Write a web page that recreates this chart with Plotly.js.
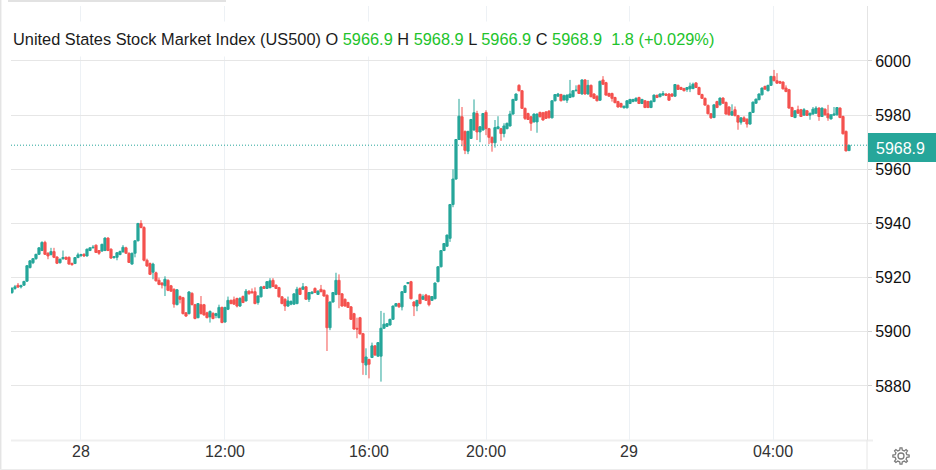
<!DOCTYPE html>
<html>
<head>
<meta charset="utf-8">
<script src="https://cdn.plot.ly/plotly-3.0.1.min.js"></script>
<style>html,body{margin:0;padding:0;background:#fff;overflow:hidden}#c{width:936px;height:470px}</style>
</head>
<body>
<div id="c"></div>
<script>
var opens = [
5914.5,5916.0,5917.2,5916.6,5917.2,5918.7,5923.7,5925.5,5927.0,5928.6,
5930.0,5933.0,5929.0,5928.5,5929.6,5927.6,5925.5,5927.0,5927.5,5927.5,
5925.2,5925.2,5927.4,5928.2,5928.6,5928.0,5930.0,5931.0,5932.0,5930.0,
5929.8,5930.0,5934.6,5930.5,5927.4,5927.5,5928.5,5929.5,5931.0,5929.0,
5925.0,5929.0,5933.6,5940.0,5938.5,5926.4,5925.2,5922.0,5921.8,5919.0,
5918.0,5917.0,5919.0,5917.0,5915.7,5910.0,5913.0,5912.6,5907.0,5906.7,
5914.2,5910.0,5905.2,5910.0,5910.0,5907.0,5905.5,5906.8,5906.0,5905.2,
5909.0,5903.6,5908.3,5911.6,5911.8,5912.3,5909.5,5913.0,5911.4,5915.0,
5914.8,5914.8,5910.8,5912.9,5916.7,5916.0,5916.3,5919.0,5917.2,5916.3,
5912.9,5912.0,5909.5,5910.2,5910.2,5910.4,5916.0,5915.7,5916.6,5912.0,
5914.1,5916.0,5913.8,5915.7,5915.3,5913.5,5901.5,5911.0,5913.8,5919.0,
5914.0,5912.0,5910.8,5909.2,5906.7,5901.3,5905.2,5899.3,5887.7,5889.8,
5890.5,5894.8,5891.0,5891.0,5901.3,5902.0,5902.5,5904.6,5909.5,5910.4,
5909.2,5914.5,5917.8,5918.5,5911.0,5909.5,5913.8,5912.0,5913.6,5913.2,
5911.6,5912.2,5918.5,5924.0,5930.0,5931.6,5934.5,5947.0,5956.4,5971.0,
5979.4,5974.0,5966.7,5971.4,5974.5,5980.6,5973.8,5974.5,5981.0,5975.0,
5971.8,5969.8,5975.0,5975.0,5973.2,5975.0,5976.0,5980.4,5985.5,5991.0,
5989.0,5982.5,5980.6,5979.4,5977.5,5977.5,5981.0,5980.9,5981.2,5981.5,
5979.0,5985.3,5987.0,5987.6,5985.6,5985.5,5986.5,5986.8,5989.0,5991.0,
5987.8,5993.0,5987.8,5991.0,5987.8,5987.0,5985.5,5993.0,5992.0,5988.0,
5988.0,5986.5,5985.0,5984.3,5982.7,5982.7,5984.3,5985.0,5985.2,5986.5,
5984.3,5985.3,5985.0,5982.8,5985.0,5987.3,5986.8,5987.4,5987.8,5987.8,
5987.8,5987.0,5991.0,5990.2,5989.8,5989.5,5989.7,5989.8,5991.9,5990.2,
5987.6,5986.2,5983.6,5980.5,5979.1,5985.0,5983.8,5986.3,5984.7,5983.0,
5980.0,5982.0,5979.8,5977.4,5979.0,5978.5,5976.7,5981.0,5984.4,5985.7,
5987.5,5990.6,5989.0,5991.0,5994.3,5992.7,5992.4,5992.2,5990.0,5989.4,
5982.8,5979.1,5982.0,5982.0,5980.0,5981.6,5980.0,5980.4,5980.7,5982.6,
5979.5,5982.2,5980.5,5978.6,5980.0,5980.1,5982.6,5979.5,5974.0,5966.9
];
var highs = [
5916.5,5917.3,5918.0,5917.4,5918.8,5924.6,5926.4,5927.2,5928.8,5931.2,
5933.4,5933.6,5929.4,5931.0,5931.0,5927.9,5927.0,5930.0,5927.8,5927.8,
5925.6,5927.6,5929.2,5928.8,5929.0,5930.7,5931.2,5932.0,5932.2,5930.2,
5932.5,5934.9,5934.9,5930.8,5928.0,5929.4,5930.0,5932.0,5931.4,5929.3,
5929.2,5933.8,5940.2,5941.2,5939.0,5927.0,5925.6,5925.5,5922.2,5920.0,
5918.3,5920.5,5919.4,5917.3,5916.0,5915.8,5913.4,5912.9,5907.3,5915.0,
5914.6,5910.3,5910.6,5913.2,5910.3,5907.4,5907.9,5907.2,5907.0,5910.0,
5909.3,5909.2,5913.0,5911.9,5913.0,5912.6,5912.8,5913.4,5915.8,5915.3,
5916.0,5916.4,5913.5,5916.9,5917.0,5918.7,5919.8,5919.8,5917.5,5916.6,
5913.2,5912.4,5913.0,5911.6,5914.2,5916.6,5916.4,5918.0,5916.9,5914.7,
5914.9,5916.4,5915.3,5917.3,5915.6,5913.8,5911.2,5914.7,5921.8,5921.2,
5914.3,5912.3,5911.1,5909.5,5907.0,5905.2,5905.5,5899.6,5893.9,5890.0,
5896.0,5895.0,5896.2,5907.7,5907.0,5903.2,5904.8,5909.7,5910.6,5910.7,
5915.0,5917.2,5918.4,5918.8,5911.3,5911.8,5914.1,5913.8,5914.0,5913.5,
5913.2,5918.2,5924.2,5930.2,5932.8,5935.9,5947.2,5960.0,5971.2,5986.0,
5983.0,5974.3,5974.2,5978.6,5985.8,5981.6,5975.9,5980.8,5981.8,5975.3,
5972.1,5978.2,5979.6,5975.3,5977.0,5977.2,5981.6,5986.0,5988.0,5991.4,
5989.3,5982.8,5980.9,5979.7,5980.6,5980.6,5981.3,5981.2,5981.5,5981.8,
5985.5,5987.8,5988.2,5987.9,5987.6,5987.6,5993.0,5989.2,5991.0,5991.3,
5993.2,5993.3,5993.0,5991.3,5988.1,5987.3,5992.7,5994.4,5992.3,5988.3,
5988.3,5986.8,5985.3,5984.6,5983.5,5985.5,5986.0,5986.0,5986.6,5986.8,
5986.0,5985.6,5985.3,5985.4,5987.6,5987.6,5988.0,5988.9,5988.1,5988.1,
5988.1,5991.5,5991.3,5990.5,5990.1,5990.4,5992.0,5992.0,5992.2,5990.5,
5987.9,5986.5,5983.9,5980.8,5984.0,5985.3,5986.5,5986.6,5985.0,5983.3,
5984.0,5983.2,5980.1,5979.2,5979.6,5978.8,5981.2,5985.0,5986.1,5988.0,
5990.2,5990.9,5991.2,5994.5,5996.7,5995.5,5992.7,5992.5,5991.0,5989.7,
5983.1,5981.8,5983.5,5982.3,5982.6,5981.9,5980.9,5983.0,5983.3,5982.9,
5982.8,5982.5,5983.8,5980.3,5983.0,5983.0,5982.9,5979.8,5974.3,5968.9
];
var lows = [
5914.0,5915.5,5916.2,5916.0,5917.0,5918.4,5923.4,5925.0,5926.6,5928.4,
5929.8,5928.4,5926.8,5928.2,5927.2,5925.0,5925.2,5926.6,5926.5,5924.8,
5924.4,5925.0,5927.2,5927.6,5927.6,5927.8,5929.8,5930.8,5929.1,5928.4,
5929.6,5929.8,5929.8,5927.0,5927.0,5926.4,5928.3,5929.3,5928.8,5925.4,
5924.8,5927.5,5933.4,5938.2,5926.0,5924.0,5921.0,5919.4,5918.6,5917.2,
5916.0,5913.2,5915.0,5914.8,5908.9,5909.8,5910.5,5906.4,5905.5,5906.4,
5909.8,5904.6,5905.0,5906.4,5906.0,5905.0,5903.4,5904.6,5905.0,5905.0,
5903.2,5903.4,5908.0,5910.2,5910.0,5909.0,5909.2,5910.6,5911.2,5913.8,
5914.2,5910.2,5910.0,5912.7,5915.8,5915.8,5916.0,5916.5,5915.8,5912.7,
5910.2,5907.7,5909.2,5909.8,5910.0,5910.2,5913.6,5915.5,5911.8,5911.0,
5913.9,5914.3,5913.6,5914.6,5913.0,5892.9,5900.6,5910.8,5913.5,5908.7,
5909.3,5909.3,5908.8,5904.4,5900.8,5897.6,5899.0,5884.1,5884.0,5882.8,
5890.3,5891.2,5890.8,5881.6,5901.1,5901.8,5902.3,5904.4,5909.3,5908.9,
5907.9,5914.3,5917.6,5912.0,5905.8,5907.6,5910.2,5911.8,5911.4,5909.4,
5911.4,5912.0,5918.3,5923.8,5929.8,5931.4,5933.2,5946.0,5956.2,5970.8,
5968.5,5965.6,5965.6,5971.2,5974.3,5970.8,5970.0,5974.3,5972.6,5969.3,
5966.5,5968.0,5974.8,5970.5,5971.8,5974.8,5975.8,5980.2,5985.3,5988.8,
5982.3,5978.2,5978.2,5974.2,5977.3,5973.5,5979.2,5978.0,5978.6,5978.8,
5978.8,5985.1,5986.8,5985.1,5985.4,5984.5,5986.3,5986.6,5988.8,5987.8,
5987.6,5987.6,5987.6,5986.6,5986.0,5985.1,5985.3,5991.2,5987.2,5986.8,
5985.0,5984.4,5982.8,5982.8,5982.5,5982.5,5984.1,5984.8,5985.0,5984.1,
5984.1,5982.6,5982.6,5982.6,5984.8,5986.3,5986.6,5987.2,5987.1,5985.3,
5986.8,5986.8,5989.3,5989.3,5988.8,5988.6,5988.5,5989.6,5990.0,5987.4,
5986.0,5983.5,5980.3,5978.6,5978.9,5982.6,5983.6,5984.2,5980.2,5979.9,
5979.8,5979.6,5974.6,5976.5,5977.5,5975.4,5976.5,5980.8,5984.2,5985.5,
5987.3,5989.4,5988.8,5990.8,5992.5,5991.6,5991.6,5989.5,5988.5,5982.4,
5979.3,5978.9,5980.5,5979.3,5979.8,5979.7,5978.3,5980.2,5980.5,5977.9,
5979.3,5979.9,5977.9,5978.4,5979.8,5979.9,5978.9,5972.9,5966.6,5966.9
];
var closes = [
5916.0,5916.6,5916.5,5917.0,5918.6,5924.4,5926.2,5927.0,5928.6,5931.0,
5933.0,5928.6,5928.0,5929.6,5927.5,5925.3,5926.8,5927.4,5926.8,5925.0,
5924.8,5927.4,5928.4,5928.5,5928.0,5930.5,5931.0,5931.2,5929.3,5929.0,
5932.3,5934.6,5930.0,5927.2,5927.7,5929.2,5929.6,5931.2,5929.0,5925.6,
5929.0,5933.6,5940.0,5938.5,5926.4,5924.3,5921.2,5925.0,5918.8,5917.5,
5917.3,5919.4,5915.3,5915.0,5910.2,5915.5,5912.0,5906.7,5905.8,5914.7,
5910.0,5904.9,5910.4,5906.7,5906.2,5905.2,5907.5,5904.9,5906.7,5909.0,
5903.4,5909.0,5911.6,5910.4,5910.2,5909.5,5912.3,5910.8,5915.0,5914.0,
5914.4,5910.4,5913.2,5916.5,5916.0,5918.5,5918.8,5916.7,5916.0,5912.9,
5910.4,5909.5,5911.4,5911.2,5914.0,5915.7,5913.8,5916.6,5912.0,5914.5,
5914.7,5914.5,5915.0,5914.8,5913.2,5901.5,5911.0,5914.5,5919.0,5913.8,
5909.5,5909.5,5909.0,5904.6,5901.0,5901.0,5899.2,5888.6,5890.7,5888.0,
5894.8,5891.4,5896.0,5901.3,5902.8,5903.0,5904.6,5909.5,5910.4,5909.2,
5914.8,5917.0,5918.2,5912.2,5909.5,5911.6,5910.4,5913.0,5911.6,5910.0,
5913.0,5918.0,5924.0,5930.0,5932.6,5935.7,5947.0,5956.4,5971.0,5979.6,
5970.8,5967.0,5974.0,5978.4,5980.9,5973.8,5975.7,5980.6,5975.0,5971.8,
5969.8,5975.4,5975.7,5973.2,5976.0,5977.0,5980.4,5985.8,5987.8,5989.0,
5982.5,5978.8,5978.4,5977.0,5980.4,5980.4,5979.4,5978.2,5978.8,5979.0,
5985.3,5987.6,5987.8,5985.3,5987.2,5987.4,5987.8,5989.0,5989.2,5988.0,
5993.0,5987.8,5991.0,5986.8,5986.2,5985.3,5992.5,5991.4,5987.4,5987.0,
5986.2,5984.6,5983.0,5983.0,5983.3,5985.3,5985.8,5985.8,5986.2,5984.3,
5985.8,5982.8,5982.8,5985.2,5987.4,5986.5,5987.8,5988.0,5987.3,5985.5,
5987.0,5991.3,5989.5,5989.5,5989.0,5990.2,5990.7,5991.4,5990.2,5987.6,
5986.2,5983.7,5980.5,5979.0,5983.8,5982.8,5986.3,5984.4,5980.4,5980.1,
5981.3,5979.8,5977.4,5979.0,5977.7,5976.7,5981.0,5984.8,5985.9,5987.8,
5990.0,5989.6,5991.0,5994.3,5992.7,5991.8,5991.8,5989.7,5988.7,5982.6,
5979.5,5981.6,5980.7,5979.5,5982.0,5979.9,5980.7,5982.2,5982.6,5979.5,
5982.6,5980.1,5979.0,5980.1,5980.4,5982.8,5979.1,5973.1,5966.8,5968.9
];
var tickPositions = [23, 71, 119, 158, 205.67, 253.67];
var tickLabels = ['28', '12:00', '16:00', '20:00', '29', '04:00'];
var priceTicks = [5880, 5900, 5920, 5940, 5960, 5980, 6000];
var symbolName = 'United States Stock Market Index (US500)';
var ohlcLabel = ['5966.9', '5968.9', '5966.9', '5968.9'];
var changeLabel = '1.8 (+0.029%)';
var lastPrice = 5968.9;
var lastPriceLabel = '5968.9';

var UP = '#26a69a', DOWN = '#f4524f', LEG = '#22c32c';
var L = 11, R = 69, T = 6, B = 30, W = 936 - L - R, H = 470 - T - B;
function px(p) { return (p - L) / W; }
function py(p) { return 1 - (p - T) / H; }

var xs = closes.map(function (_, i) { return i; });
var trace = {
  type: 'candlestick', x: xs, open: opens, high: highs, low: lows, close: closes,
  increasing: {line: {color: UP, width: 1}, fillcolor: UP},
  decreasing: {line: {color: DOWN, width: 1}, fillcolor: DOWN},
  whiskerwidth: 0, hoverinfo: 'skip', showlegend: false
};

function g(t) { return '<span style="color:' + LEG + '">' + t + '</span>'; }
var header = symbolName + ' O ' + g(ohlcLabel[0]) + ' H ' + g(ohlcLabel[1]) + ' L ' + g(ohlcLabel[2]) +
  ' C ' + g(ohlcLabel[3]) + ' &nbsp;' + g(changeLabel);

function gearPath(cx, cy) {
  var n = 8, d = '', r1 = 8.2, r2 = 6.0;
  for (var i = 0; i < n; i++) {
    var a0 = (i - 0.27) * 2 * Math.PI / n, a1 = (i - 0.15) * 2 * Math.PI / n,
        a2 = (i + 0.15) * 2 * Math.PI / n, a3 = (i + 0.27) * 2 * Math.PI / n;
    var pts = [[r2, a0], [r1, a1], [r1, a2], [r2, a3]];
    pts.forEach(function (q, k) {
      d += ((i === 0 && k === 0) ? 'M' : 'L') + px(cx + q[0] * Math.sin(q[1])).toFixed(5) + ',' + py(cy - q[0] * Math.cos(q[1])).toFixed(5);
    });
  }
  return d + 'Z';
}
function pline(x0, y0, x1, y1, c, w) {
  return {type: 'line', xref: 'paper', yref: 'paper', x0: px(x0), y0: py(y0), x1: px(x1), y1: py(y1), line: {color: c, width: w}, layer: 'below'};
}

var layout = {
  width: 936, height: 470, margin: {l: L, r: R, t: T, b: B, pad: 0},
  paper_bgcolor: '#fff', plot_bgcolor: '#fff',
  font: {family: '"Liberation Sans", Arial, sans-serif', size: 16, color: '#111'},
  boxgap: 0.1, boxgroupgap: 0.2,
  showlegend: false, dragmode: false,
  xaxis: {
    type: 'linear', range: [-0.33, 285], rangeslider: {visible: false},
    tickmode: 'array', tickvals: tickPositions, ticktext: tickLabels,
    showgrid: true, gridcolor: '#edf1f5', gridwidth: 1, zeroline: false,
    showline: false, ticks: '', tickfont: {size: 16, color: '#333'}, fixedrange: true
  },
  yaxis: {
    side: 'right', type: 'linear', range: [5860.04, 6020.3],
    tickmode: 'array', tickvals: priceTicks, ticktext: priceTicks.map(String),
    showgrid: true, gridcolor: '#e6e6e6', gridwidth: 1, zeroline: false,
    showline: true, linecolor: '#e4e4e4', linewidth: 1,
    ticks: 'outside', ticklen: 4, tickcolor: '#d0d0d0', tickwidth: 1,
    tickfont: {size: 16, color: '#111'}, fixedrange: true
  },
  shapes: [
    pline(L, 440.5, 873, 440.5, '#efefef', 2),
    pline(867, 440, 867, 469, '#e6e6e6', 1),
    pline(8, 1, 226, 1, '#d9d9d9', 1.5),
    pline(0.7, 0, 0.7, 470, '#e4e4e4', 1.5),
    pline(0, 469.5, 936, 469.5, '#ececec', 1),
    {type: 'line', xref: 'paper', yref: 'y', x0: 0, x1: 1, y0: lastPrice, y1: lastPrice, line: {color: UP, width: 1, dash: '1px,2px'}, layer: 'above'},
    {type: 'rect', xref: 'paper', yref: 'paper', x0: px(868), x1: px(936), y0: py(162), y1: py(133), fillcolor: UP, line: {width: 0}, layer: 'above'},
    {type: 'path', xref: 'paper', yref: 'paper', path: gearPath(901, 456), fillcolor: 'rgba(0,0,0,0)', line: {color: '#7c7c7c', width: 1.3}},
    {type: 'circle', xref: 'paper', yref: 'paper', x0: px(898), x1: px(904), y0: py(459), y1: py(453), line: {color: '#7c7c7c', width: 1.3}}
  ],
  annotations: [
    {xref: 'paper', yref: 'paper', x: px(10), y: py(39), xanchor: 'left', yanchor: 'middle', text: header,
     showarrow: false, align: 'left', bgcolor: '#fff', borderpad: 2, height: 30,
     font: {size: 16.35, color: '#1c1c1c'}},
    {xref: 'paper', yref: 'paper', x: px(874), y: py(148), xanchor: 'left', yanchor: 'middle', text: lastPriceLabel,
     showarrow: false, font: {size: 16, color: '#fff'}}
  ]
};
Plotly.newPlot('c', [trace], layout, {displayModeBar: false, staticPlot: true});
</script>
</body>
</html>
